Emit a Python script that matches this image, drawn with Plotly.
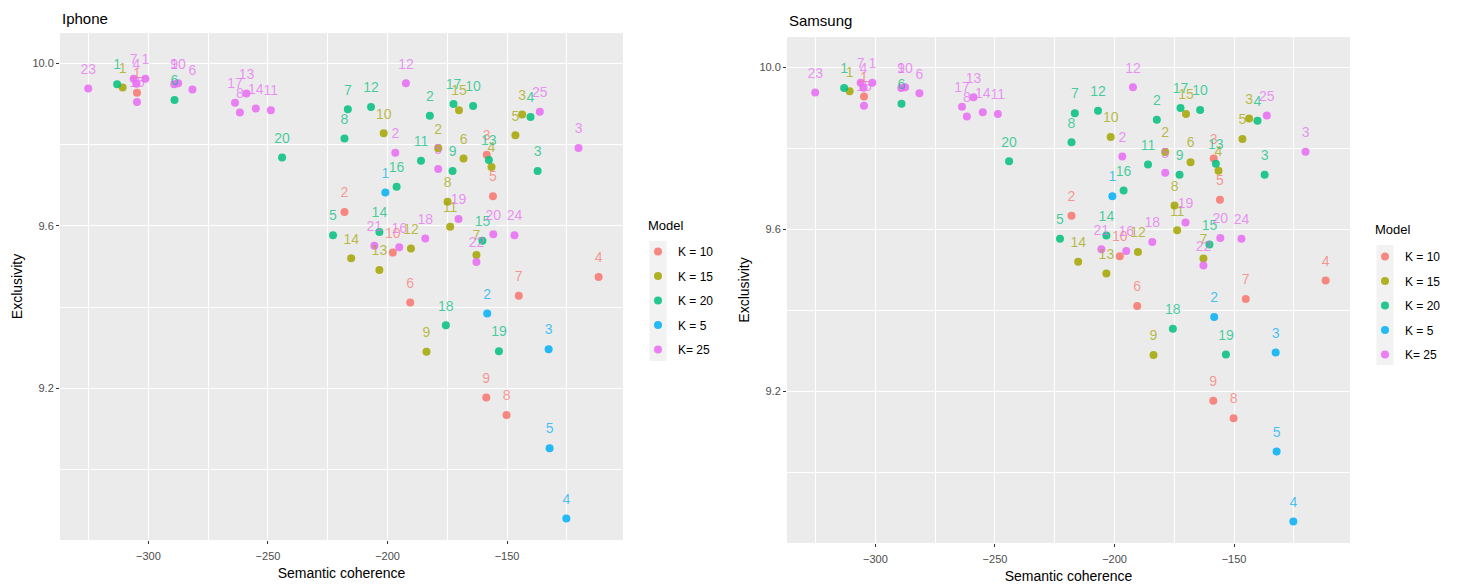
import plotly.graph_objects as go

# ---- data (both panels show the same values) ----
models = ["K = 10", "K = 15", "K = 20", "K = 5", "K= 25"]
colors = ["#F8766D", "#A3A500", "#00BF7D", "#00B0F6", "#E76BF3"]

k10_coherence = [-304.8, -218.0, -158.5, -111.7, -155.9, -190.5, -145.1, -150.2, -158.7, -197.8]
k10_exclusivity = [9.928, 9.634, 9.775, 9.474, 9.673, 9.411, 9.428, 9.134, 9.177, 9.534]

k15_coherence = [-310.8, -178.8, -143.7, -156.5, -146.5, -168.2, -162.8, -174.9, -183.7, -201.6,
                 -173.8, -190.2, -203.4, -215.2, -170.1]
k15_exclusivity = [9.941, 9.791, 9.874, 9.745, 9.823, 9.766, 9.528, 9.659, 9.290, 9.828,
                   9.598, 9.544, 9.491, 9.520, 9.885]

k20_coherence = [-313.1, -182.3, -137.2, -140.2, -222.8, -289.1, -216.6, -218.0, -172.8, -164.2,
                 -186.0, -206.9, -157.6, -203.4, -160.3, -196.2, -172.4, -175.6, -153.4, -244.1]
k20_exclusivity = [9.949, 9.871, 9.735, 9.868, 9.577, 9.910, 9.887, 9.815, 9.735, 9.895,
                   9.760, 9.893, 9.762, 9.585, 9.563, 9.696, 9.900, 9.355, 9.291, 9.768]

k5_coherence = [-200.9, -158.3, -132.6, -125.2, -132.2]
k5_exclusivity = [9.682, 9.384, 9.296, 8.879, 9.052]

k25_coherence = [-301.3, -196.75, -120.1, -305.0, -178.8, -281.6, -306.2, -261.75, -289.2, -287.6,
                 -248.8, -192.3, -259.0, -255.1, -304.8, -195.1, -263.8, -184.2, -170.3, -155.75,
                 -205.5, -162.8, -325.2, -146.9, -136.3]
k25_exclusivity = [9.962, 9.780, 9.792, 9.950, 9.740, 9.936, 9.962, 9.879, 9.949, 9.951,
                   9.885, 9.951, 9.926, 9.889, 9.905, 9.547, 9.903, 9.569, 9.617, 9.579,
                   9.551, 9.511, 9.938, 9.577, 9.881]

coherence = [k10_coherence, k15_coherence, k20_coherence, k5_coherence, k25_coherence]
exclusivity = [k10_exclusivity, k15_exclusivity, k20_exclusivity, k5_exclusivity, k25_exclusivity]

panel_titles = ["Iphone", "Samsung"]

# ---- styling ----
W, H = 1458, 588
NUDGE = 0.045
FONT = "Liberation Sans, Arial, sans-serif"


def rgba(hex_color, a):
    h = hex_color.lstrip("#")
    r, g, b = int(h[0:2], 16), int(h[2:4], 16), int(h[4:6], 16)
    return f"rgba({r},{g},{b},{a})"


fig = go.Figure()
panels = [("x", "y", "legend"), ("x2", "y2", "legend2")]

for pi, (xa, ya, lg) in enumerate(panels):
    # points layer
    for name, col, cx, ey in zip(models, colors, coherence, exclusivity):
        fig.add_trace(go.Scatter(
            x=cx, y=ey, mode="markers", name=name,
            marker=dict(color=rgba(col, 0.85), size=8),
            xaxis=xa, yaxis=ya, legend=lg, legendgroup=f"{name}-{pi}",
        ))
    # text layer
    for name, col, cx, ey in zip(models, colors, coherence, exclusivity):
        fig.add_trace(go.Scatter(
            x=cx, y=[v + NUDGE for v in ey], mode="text",
            text=[str(i + 1) for i in range(len(cx))],
            textposition="middle center",
            textfont=dict(color=rgba(col, 0.72), size=14, family=FONT),
            xaxis=xa, yaxis=ya, showlegend=False, hoverinfo="skip",
        ))

axis_common = dict(
    showgrid=True, gridcolor="white", gridwidth=1.2, zeroline=False,
    ticks="outside", ticklen=3, tickcolor="#333333", tickwidth=1,
    tickfont=dict(size=11, color="#4D4D4D", family=FONT),
    showline=False,
)
xr = [-337, -101.5]
yr = [8.826, 10.075]

x_common = dict(axis_common, range=xr, tick0=-300, dtick=50, ticklabelstandoff=3,
                minor=dict(dtick=25, tick0=-300, showgrid=True, gridcolor="white", gridwidth=0.6),
                title=dict(text="Semantic coherence", font=dict(size=14, color="black", family=FONT), standoff=6))
y_common = dict(axis_common, range=yr, tick0=9.2, dtick=0.4, tickformat=".1f",
                minor=dict(dtick=0.2, tick0=9.2, showgrid=True, gridcolor="white", gridwidth=0.6),
                title=dict(text="Exclusivity", font=dict(size=14, color="black", family=FONT), standoff=6))

# legend key backgrounds (ggplot grey95 keys)
key_shapes = []
for kx, ky0, ky1 in [(658, 241, 361), (1385, 245, 365)]:
    key_shapes.append(dict(type="rect", xref="paper", yref="paper",
                           x0=(kx - 8.5) / W, x1=(kx + 8.5) / W,
                           y0=1 - ky1 / H, y1=1 - ky0 / H,
                           fillcolor="#F2F2F2", line=dict(width=0), layer="below"))

legend_common = dict(xanchor="left", yanchor="top", font=dict(size=12),
                     bgcolor="rgba(0,0,0,0)", tracegroupgap=5.5, itemsizing="trace")

fig.update_layout(
    width=W, height=H,
    margin=dict(l=0, r=0, t=0, b=0),
    paper_bgcolor="white", plot_bgcolor="#EBEBEB",
    font=dict(family=FONT, color="black"),
    xaxis=dict(x_common, domain=[60 / W, 623 / W], anchor="y"),
    yaxis=dict(y_common, domain=[1 - 540 / H, 1 - 33 / H], anchor="x"),
    xaxis2=dict(x_common, domain=[787 / W, 1350 / W], anchor="y2"),
    yaxis2=dict(y_common, domain=[1 - 543 / H, 1 - 37 / H], anchor="x2"),
    showlegend=True,
    legend=dict(legend_common, x=638 / W, y=1 - 237 / H),
    legend2=dict(legend_common, x=1365 / W, y=1 - 242 / H),
    shapes=key_shapes,
    annotations=[
        dict(text=panel_titles[0], x=60 / W, y=1 - 18 / H, xref="paper", yref="paper",
             xanchor="left", yanchor="middle", showarrow=False, font=dict(size=15, color="black")),
        dict(text=panel_titles[1], x=787 / W, y=1 - 21 / H, xref="paper", yref="paper",
             xanchor="left", yanchor="middle", showarrow=False, font=dict(size=15, color="black")),
        dict(text="Model", x=646 / W, y=1 - 225 / H, xref="paper", yref="paper",
             xanchor="left", yanchor="middle", showarrow=False, font=dict(size=13, color="black")),
        dict(text="Model", x=1373 / W, y=1 - 229 / H, xref="paper", yref="paper",
             xanchor="left", yanchor="middle", showarrow=False, font=dict(size=13, color="black")),
    ],
)

fig.write_html("out.html")
